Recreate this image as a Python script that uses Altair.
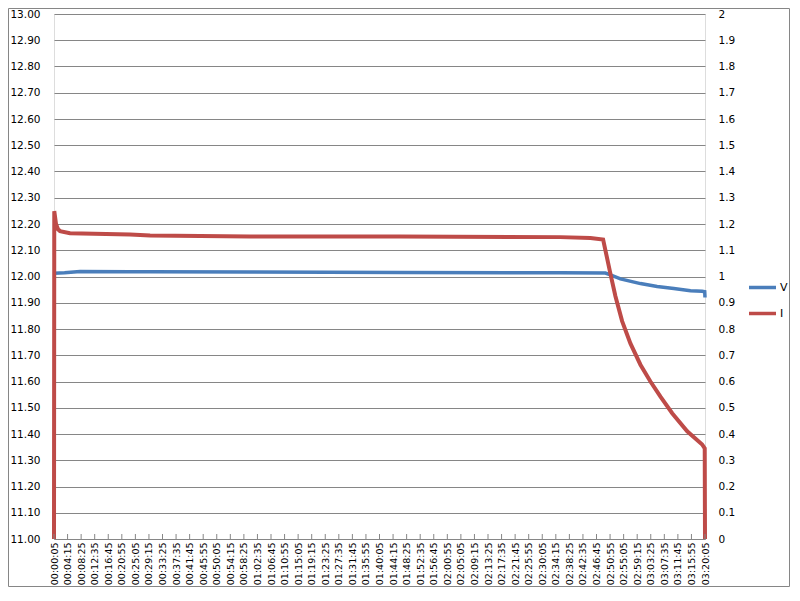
import altair as alt
import pandas as pd

# ---- data ----
# time in seconds since start
v_time = [5, 200, 485, 1407, 1776, 3621, 6388, 9339, 10169, 10262, 10446, 10815, 11123, 11430, 11738, 11953, 12000, 12005]
v_value = [12.012, 12.014, 12.019, 12.0185, 12.018, 12.017, 12.015, 12.014, 12.013, 12.006, 11.991, 11.973, 11.962, 11.954, 11.946, 11.944, 11.942, 11.920]

i_time = [5, 10, 42, 79, 116, 300, 1407, 1776, 3621, 6388, 9339, 9893, 10127, 10262, 10354, 10477, 10630, 10815, 10999, 11184, 11400, 11677, 11953, 12000, 12005]
i_value = [0.0, 1.249, 1.200, 1.180, 1.173, 1.165, 1.160, 1.156, 1.152, 1.152, 1.150, 1.147, 1.141, 1.010, 0.925, 0.830, 0.745, 0.664, 0.600, 0.542, 0.479, 0.410, 0.360, 0.345, 0.0]

x_labels = ["00:00:05", "00:04:15", "00:08:25", "00:12:35", "00:16:45", "00:20:55", "00:25:05",
            "00:29:15", "00:33:25", "00:37:35", "00:41:45", "00:45:55", "00:50:05", "00:54:15",
            "00:58:25", "01:02:35", "01:06:45", "01:10:55", "01:15:05", "01:19:15", "01:23:25",
            "01:27:35", "01:31:45", "01:35:55", "01:40:05", "01:44:15", "01:48:25", "01:52:35",
            "01:56:45", "02:00:55", "02:05:05", "02:09:15", "02:13:25", "02:17:35", "02:21:45",
            "02:25:55", "02:30:05", "02:34:15", "02:38:25", "02:42:35", "02:46:45", "02:50:55",
            "02:55:05", "02:59:15", "03:03:25", "03:07:35", "03:11:45", "03:15:55", "03:20:05"]

y_left_ticks = [11.0, 11.1, 11.2, 11.3, 11.4, 11.5, 11.6, 11.7, 11.8, 11.9, 12.0,
                12.1, 12.2, 12.3, 12.4, 12.5, 12.6, 12.7, 12.8, 12.9, 13.0]
y_right_ticks = [0.0, 0.1, 0.2, 0.3, 0.4, 0.5, 0.6, 0.7, 0.8, 0.9, 1.0,
                 1.1, 1.2, 1.3, 1.4, 1.5, 1.6, 1.7, 1.8, 1.9, 2.0]

series_names = ["V", "I"]
series_colors = ["#4a7ebb", "#be4b48"]


def to_sec(s):
    h, m, sec = s.split(":")
    return int(h) * 3600 + int(m) * 60 + int(sec)


x_ticks = [to_sec(s) for s in x_labels]

W, H = 651, 525
GRID = "#868686"
FONT = "DejaVu Sans"

df_v = pd.DataFrame({"t": v_time, "val": v_value, "series": series_names[0]})
df_i = pd.DataFrame({"t": i_time, "val": i_value, "series": series_names[1]})
df_ticks = pd.DataFrame({"t": x_ticks})

x_scale = alt.Scale(domain=[x_ticks[0], x_ticks[-1]], nice=False, zero=False)
x_axis = alt.Axis(values=x_ticks, labelExpr="utcFormat(datum.value*1000, '%H:%M:%S')",
                  labelAngle=270, labelOverlap=False, ticks=False, tickSize=0,
                  labelPadding=3, labelFontSize=9.5, domainColor=GRID, grid=False,
                  title=None, labelColor="#000000", labelFont=FONT)

color_scale = alt.Scale(domain=series_names, range=series_colors)
legend = alt.Legend(orient="none", legendX=693, legendY=258, title=None,
                    symbolType="stroke", symbolSize=729, symbolStrokeWidth=3.5,
                    labelFontSize=11, labelFont=FONT, labelColor="#000000",
                    rowPadding=3, labelOffset=2, padding=0)

v_line = alt.Chart(df_v).mark_line(strokeWidth=3.5).encode(
    x=alt.X("t:Q", scale=x_scale, axis=x_axis),
    y=alt.Y("val:Q", scale=alt.Scale(domain=[11, 13], nice=False, zero=False),
            axis=alt.Axis(values=y_left_ticks, format=".2f", grid=True, gridColor=GRID,
                          ticks=False, domain=False, labelPadding=14, labelFontSize=10.5,
                          labelColor="#000000", labelFont=FONT, title=None)),
    color=alt.Color("series:N", scale=color_scale, legend=legend),
)

i_line = alt.Chart(df_i).mark_line(strokeWidth=4).encode(
    x=alt.X("t:Q", scale=x_scale, axis=x_axis),
    y=alt.Y("val:Q", scale=alt.Scale(domain=[0, 2], nice=False, zero=False),
            axis=alt.Axis(values=y_right_ticks, format=".1~f", orient="right", grid=False,
                          ticks=False, domain=False, labelPadding=13, labelFontSize=10.5,
                          labelColor="#000000", labelFont=FONT, title=None)),
    color=alt.Color("series:N", scale=color_scale, legend=legend),
)

# inside tick marks on the category axis
tick_marks = alt.Chart(df_ticks).mark_rule(color=GRID, strokeWidth=1).encode(
    x=alt.X("t:Q", scale=x_scale, axis=x_axis),
    y=alt.value(H - 5),
    y2=alt.value(H),
)

# outer chart frame (decoration)
frame = alt.Chart(pd.DataFrame({"a": [0]})).mark_rect(fill=None, stroke=GRID, strokeWidth=1).encode(
    x=alt.value(-45.5), x2=alt.value(W + 84.5),
    y=alt.value(-5.5), y2=alt.value(H + 47.5),
)

chart = alt.layer(v_line, i_line, tick_marks, frame).resolve_scale(
    y="independent"
).properties(
    width=W, height=H,
    autosize=alt.AutoSizeParams(type="none"),
    padding={"left": 46, "top": 6, "right": 85, "bottom": 48},
).configure_view(stroke=GRID, strokeWidth=1).configure(background="white")

chart.save("out.html", embed_options={"renderer": "svg", "actions": False})
